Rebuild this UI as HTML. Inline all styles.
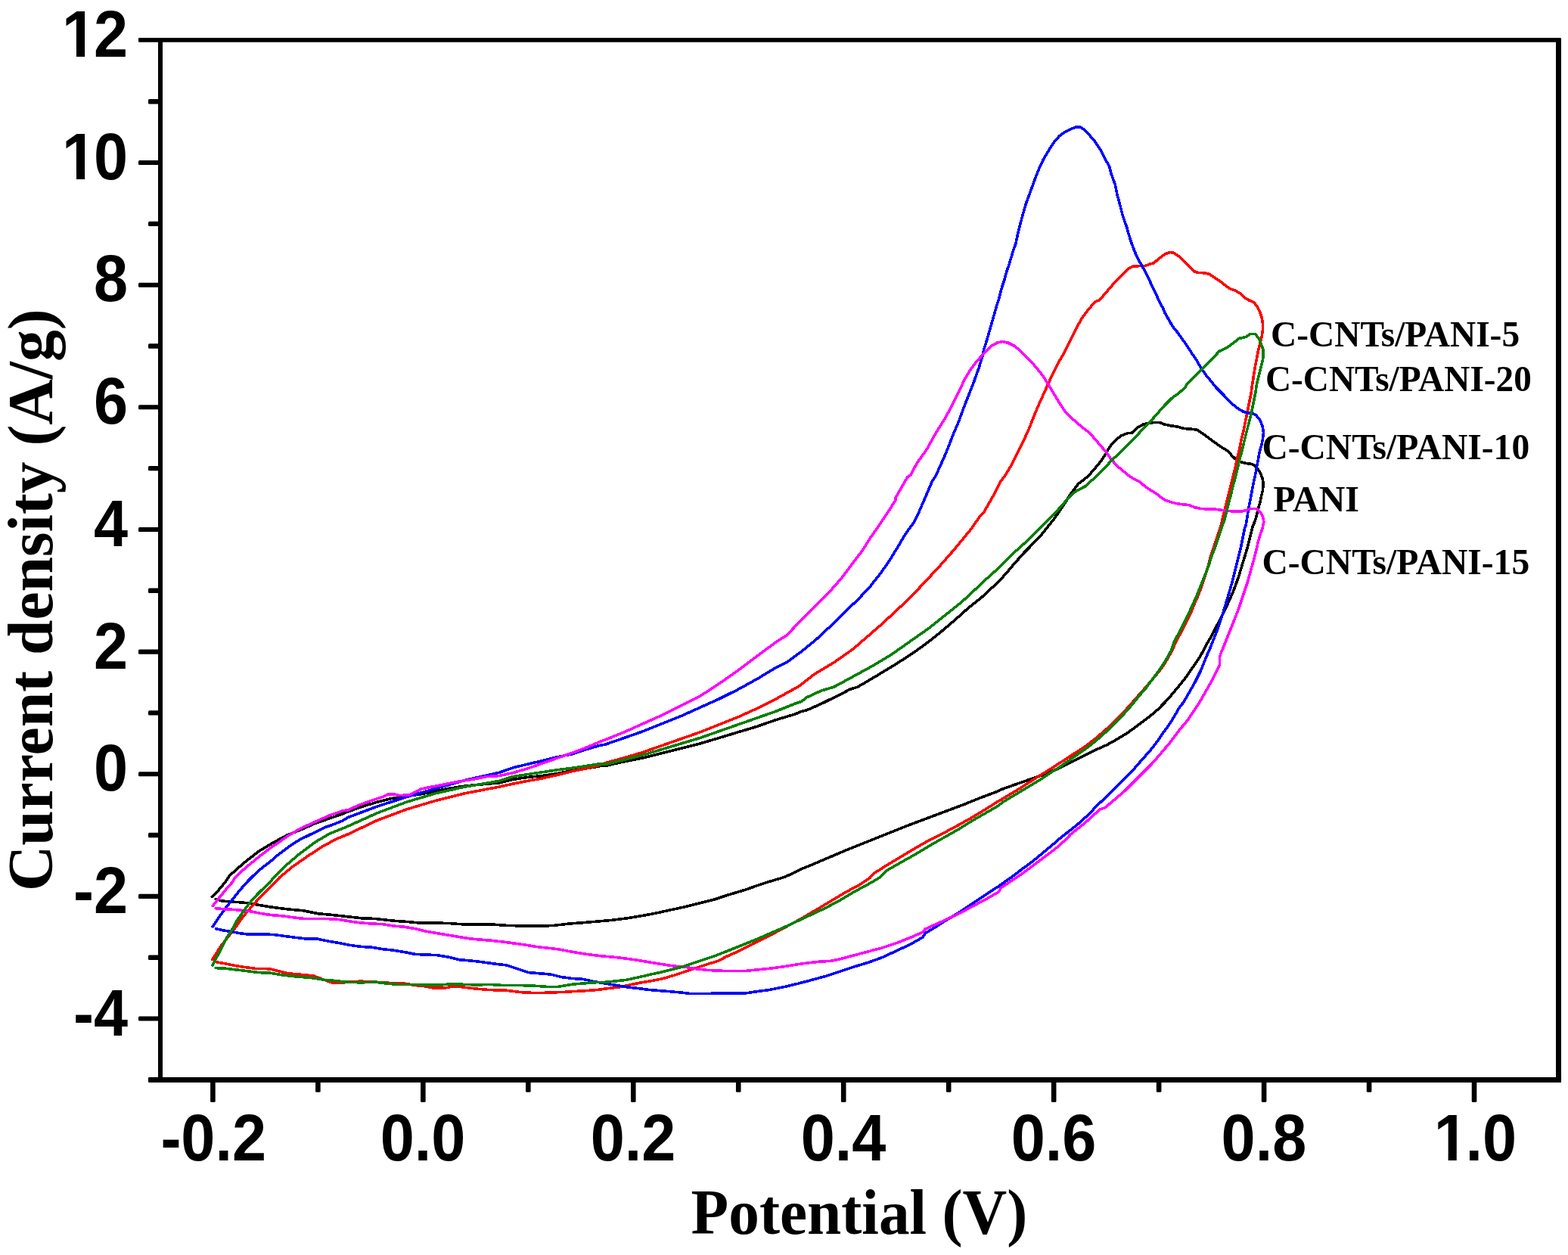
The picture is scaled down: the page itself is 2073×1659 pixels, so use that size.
<!DOCTYPE html>
<html lang="en">
<head>
<meta charset="utf-8">
<title>CV curves of PANI and C-CNTs/PANI composites</title>
<style>
html,body{margin:0;padding:0;background:#fff;}
body{width:2073px;height:1659px;overflow:hidden;}
svg{display:block;}
.tk{font-family:"Liberation Sans",Arial,sans-serif;font-weight:bold;font-size:86.4px;fill:#000;}
.ttl{font-family:"Liberation Serif","Times New Roman",serif;font-weight:bold;font-size:84px;fill:#000;}
.lg{font-family:"Liberation Serif","Times New Roman",serif;font-weight:bold;font-size:48px;fill:#000;}
.ax{fill:#000;stroke:none;}
.cv{fill:none;stroke-width:3.60;stroke-linejoin:round;stroke-linecap:round;shape-rendering:crispEdges;}
</style>
</head>
<body>
<svg xmlns="http://www.w3.org/2000/svg" width="2073" height="1659" viewBox="0 0 2073 1659">
<rect x="0" y="0" width="2073" height="1659" fill="#fff"/>
<g class="cv">
<path d="M280.3,1185.3 L288.9,1176.7 L298.6,1165.1 L302.9,1158.2 L314.5,1147.6 L327.0,1137.0 L343.4,1124.5 L357.9,1115.8 L379.1,1104.2 L396.5,1097.4 L415.8,1088.8 L435.1,1082.0 L454.4,1075.3 L460.0,1072.9 L479.3,1066.1 L498.6,1060.3 L517.9,1055.5 L537.2,1052.6 L556.5,1049.7 L575.8,1045.9 L595.1,1042.0 L614.4,1039.1 L633.7,1037.2 L660.0,1034.8 L677.9,1030.4 L697.2,1027.5 L716.5,1025.6 L735.8,1022.7 L755.1,1018.9 L774.4,1016.0 L793.7,1012.6 L800.0,1012.5 L825.1,1006.8 L850.2,1001.8 L875.3,995.5 L900.3,989.3 L925.4,983.0 L950.5,975.5 L975.6,967.9 L1000.7,960.4 L1025.8,951.6 L1050.8,944.1 L1060.0,940.3 L1066.6,938.8 L1085.9,930.3 L1105.2,920.7 L1124.5,911.0 L1134.1,908.0 L1159.2,893.2 L1184.2,878.1 L1209.3,861.8 L1228.1,848.0 L1246.9,832.9 L1265.8,816.6 L1278.3,805.4 L1290.8,795.3 L1300.0,787.8 L1309.6,778.7 L1319.3,770.0 L1328.9,759.4 L1338.6,747.9 L1346.3,739.2 L1354.0,730.5 L1361.7,722.8 L1369.5,714.1 L1377.2,706.4 L1384.9,696.7 L1392.6,687.1 L1400.3,676.5 L1408.1,664.9 L1413.8,655.2 L1419.6,647.5 L1425.4,639.8 L1433.1,634.0 L1440.0,628.0 L1447.5,619.2 L1453.8,611.7 L1460.1,602.9 L1465.1,594.1 L1470.1,586.6 L1476.4,580.3 L1482.6,575.9 L1490.2,572.8 L1496.4,572.2 L1504.0,565.3 L1511.5,560.9 L1520.3,559.0 L1527.8,558.4 L1534.1,558.8 L1539.1,560.9 L1547.9,562.8 L1556.6,564.0 L1565.4,566.5 L1575.5,567.2 L1583.0,568.4 L1590.5,573.4 L1598.0,579.1 L1606.8,585.4 L1615.6,591.6 L1623.1,596.0 L1628.1,601.7 L1633.2,606.7 L1639.4,610.4 L1646.9,612.3 L1655.7,613.6 L1660.7,617.3 L1665.8,624.2 L1668.9,631.8 L1670.2,639.3 L1669.5,648.1 L1667.6,655.6 L1665.8,664.4 L1663.3,673.2 L1661.4,680.7 L1659.5,688.0 L1657.0,693.8 L1655.7,697.6 L1652.6,710.2 L1649.5,722.7 L1645.7,735.3 L1641.9,747.8 L1638.2,760.3 L1633.8,772.9 L1629.4,784.2 L1624.4,795.5 L1619.4,806.7 L1614.3,816.8 L1608.1,828.1 L1601.8,840.6 L1594.3,853.2 L1586.7,868.0 L1577.9,880.7 L1570.1,892.3 L1560.0,905.2 L1550.8,916.4 L1540.8,927.7 L1530.8,937.8 L1520.7,946.5 L1510.7,954.1 L1500.7,961.6 L1488.1,970.4 L1475.6,977.9 L1463.1,984.8 L1450.5,990.4 L1438.0,996.7 L1425.4,1003.0 L1412.9,1009.3 L1400.3,1015.5 L1387.8,1020.5 L1375.3,1025.6 L1362.7,1029.9 L1350.2,1034.3 L1337.6,1038.7 L1325.1,1043.1 L1320.0,1045.7 L1298.3,1053.8 L1273.2,1063.9 L1248.1,1073.3 L1223.1,1082.7 L1198.0,1092.1 L1172.9,1102.1 L1147.8,1112.2 L1122.7,1122.2 L1097.6,1132.8 L1072.5,1143.5 L1060.0,1148.5 L1041.1,1157.7 L1035.3,1160.0 L1010.2,1167.5 L985.1,1176.3 L960.0,1183.8 L944.6,1189.0 L925.3,1193.9 L906.0,1198.7 L886.7,1202.8 L867.4,1207.1 L848.1,1210.7 L828.8,1213.9 L809.5,1216.3 L790.2,1218.0 L771.0,1219.7 L751.7,1221.1 L732.7,1223.4 L718.3,1224.1 L694.2,1224.1 L670.0,1223.4 L645.9,1221.7 L626.6,1221.7 L609.7,1221.7 L592.9,1220.5 L573.6,1220.0 L554.3,1220.0 L539.8,1218.6 L525.3,1217.6 L510.8,1216.2 L496.4,1214.5 L477.1,1213.7 L462.6,1212.1 L448.1,1210.4 L433.7,1208.9 L421.6,1207.9 L412.0,1206.0 L399.9,1203.6 L385.4,1202.4 L371.0,1200.7 L356.5,1198.8 L342.0,1196.4 L329.9,1194.0 L317.9,1192.8 L305.8,1192.0 L293.8,1191.1 L285.3,1188.7" stroke="#000000"/>
<path d="M280.7,1268.3 L285.1,1261.6 L291.8,1251.0 L298.6,1242.3 L305.3,1233.6 L312.1,1224.9 L317.9,1216.2 L325.6,1206.6 L333.3,1197.9 L342.0,1188.2 L351.7,1178.6 L362.3,1168.0 L369.5,1160.0 L386.8,1145.7 L406.1,1132.2 L425.4,1119.6 L444.7,1109.0 L460.0,1102.8 L498.6,1084.5 L537.2,1070.0 L575.8,1058.4 L614.4,1048.8 L660.0,1040.1 L677.9,1036.2 L697.2,1032.4 L716.5,1029.0 L735.8,1024.6 L755.1,1019.8 L774.4,1016.0 L793.7,1011.1 L800.0,1008.7 L825.1,1001.8 L850.2,994.3 L875.3,985.5 L900.3,976.7 L925.4,967.9 L950.5,957.9 L975.6,947.9 L1000.7,936.6 L1025.8,924.0 L1050.8,910.2 L1055.1,908.0 L1077.6,890.6 L1102.7,875.6 L1127.8,858.0 L1146.6,841.7 L1165.4,825.4 L1184.2,807.9 L1203.1,790.3 L1221.9,770.2 L1240.7,750.2 L1259.5,728.8 L1272.0,713.8 L1283.3,700.0 L1295.1,683.1 L1300.0,678.4 L1307.7,664.9 L1315.4,651.4 L1323.2,635.9 L1329.2,628.0 L1338.0,613.2 L1345.5,598.1 L1353.0,583.1 L1360.5,566.7 L1366.8,550.4 L1373.1,535.4 L1379.4,521.6 L1385.6,507.8 L1391.9,494.0 L1399.4,478.9 L1406.9,466.4 L1413.2,453.9 L1419.5,441.3 L1425.8,428.8 L1430.8,420.0 L1440.0,407.9 L1447.5,399.1 L1453.8,396.6 L1461.3,387.8 L1468.8,379.0 L1476.4,370.2 L1483.9,362.7 L1491.4,355.2 L1497.7,352.1 L1505.2,351.7 L1514.0,351.4 L1519.0,349.5 L1525.3,347.7 L1532.8,341.4 L1540.3,335.7 L1546.6,333.6 L1551.6,334.1 L1557.9,338.3 L1564.2,343.9 L1571.7,351.4 L1579.2,358.9 L1584.2,360.5 L1593.0,360.8 L1599.3,362.5 L1606.8,367.7 L1614.3,372.7 L1620.6,377.8 L1625.6,381.5 L1633.2,384.0 L1639.4,387.8 L1644.4,392.8 L1650.7,396.6 L1658.2,400.3 L1662.0,405.4 L1665.8,412.9 L1668.3,420.4 L1669.5,427.9 L1669.5,435.5 L1668.3,444.2 L1665.8,454.3 L1663.3,464.3 L1661.4,474.3 L1659.5,484.4 L1657.6,495.7 L1655.7,508.0 L1655.0,512.5 L1654.5,517.6 L1652.0,530.2 L1649.5,542.7 L1646.9,555.3 L1644.4,567.8 L1641.3,580.3 L1638.8,592.9 L1635.7,605.4 L1633.2,618.0 L1630.0,630.5 L1626.9,643.1 L1623.7,655.6 L1620.6,668.1 L1618.1,678.2 L1615.6,688.0 L1615.0,692.6 L1609.9,707.7 L1604.9,722.7 L1600.5,735.3 L1597.4,747.8 L1593.6,760.3 L1589.3,772.9 L1584.9,785.4 L1579.8,796.7 L1574.2,810.5 L1567.9,823.1 L1561.7,835.6 L1555.4,846.9 L1549.6,860.0 L1543.3,871.3 L1537.1,881.3 L1530.2,890.1 L1522.0,900.1 L1513.2,910.2 L1504.4,920.2 L1494.4,931.5 L1484.4,942.8 L1473.1,954.1 L1461.8,964.7 L1449.3,975.4 L1436.7,985.4 L1424.2,993.6 L1411.6,1001.7 L1399.1,1009.9 L1386.5,1018.0 L1374.0,1025.6 L1361.5,1033.7 L1348.9,1041.9 L1336.4,1049.4 L1323.8,1056.9 L1320.0,1058.8 L1304.6,1068.9 L1285.8,1080.2 L1266.9,1090.8 L1248.1,1100.9 L1229.3,1110.3 L1210.5,1120.9 L1191.7,1132.2 L1172.9,1143.5 L1154.1,1155.4 L1150.6,1160.0 L1135.6,1170.0 L1116.8,1180.1 L1098.0,1191.4 L1079.2,1202.6 L1060.3,1213.9 L1041.5,1224.0 L1022.7,1234.0 L1003.9,1243.4 L985.1,1252.8 L972.5,1259.1 L960.0,1264.7 L949.4,1270.3 L935.0,1274.7 L920.5,1279.5 L906.0,1284.3 L891.5,1289.1 L877.1,1293.5 L862.6,1296.4 L848.1,1298.8 L833.7,1301.7 L819.2,1304.8 L804.7,1306.5 L790.2,1308.4 L775.8,1309.6 L761.3,1310.4 L746.8,1311.3 L727.9,1312.1 L708.6,1312.6 L689.3,1311.7 L670.0,1309.3 L645.9,1308.5 L626.6,1306.8 L612.1,1304.9 L600.1,1303.7 L588.0,1306.1 L573.6,1306.1 L561.5,1303.7 L549.4,1302.5 L535.0,1300.1 L520.5,1299.6 L506.0,1298.9 L491.5,1297.7 L477.1,1297.2 L462.6,1297.7 L450.5,1299.6 L438.5,1298.9 L428.8,1295.3 L414.4,1290.0 L395.1,1288.0 L380.6,1286.8 L368.5,1283.7 L356.5,1280.8 L337.2,1280.3 L322.7,1278.4 L308.2,1276.0 L296.2,1273.6 L285.3,1271.6" stroke="#ff0000"/>
<path d="M281.2,1224.8 L288.9,1213.3 L298.6,1200.0 L308.2,1187.9 L317.9,1175.9 L327.5,1165.0 L337.2,1155.4 L346.8,1146.9 L356.5,1139.7 L366.1,1131.2 L375.8,1124.0 L385.4,1116.8 L395.1,1110.7 L404.7,1105.9 L416.8,1099.9 L428.8,1093.9 L440.9,1089.8 L453.0,1084.9 L460.0,1080.6 L498.6,1066.1 L537.2,1053.6 L575.8,1042.5 L614.4,1031.4 L660.0,1021.3 L677.9,1015.0 L697.2,1010.2 L716.5,1005.8 L735.8,1001.0 L755.1,997.1 L774.4,990.9 L793.7,985.1 L800.0,984.2 L825.1,975.5 L850.2,966.7 L875.3,956.6 L900.3,946.6 L925.4,935.3 L950.5,924.0 L975.6,911.5 L1000.7,897.7 L1025.8,882.6 L1040.0,875.6 L1058.8,861.8 L1077.6,846.7 L1096.4,829.2 L1115.3,810.4 L1134.1,792.8 L1150.4,775.3 L1165.4,756.4 L1178.0,737.6 L1188.0,721.3 L1196.8,706.3 L1201.2,700.0 L1208.0,691.2 L1214.0,679.1 L1220.1,664.9 L1226.2,650.7 L1232.3,636.5 L1237.6,628.0 L1247.7,605.6 L1253.9,590.6 L1260.2,574.3 L1267.7,556.7 L1274.0,539.2 L1281.5,520.3 L1287.8,504.0 L1294.1,486.5 L1299.1,470.2 L1300.5,462.8 L1305.3,447.4 L1309.2,433.8 L1313.1,420.3 L1316.9,406.8 L1320.8,394.3 L1323.7,382.7 L1327.5,371.1 L1330.4,360.5 L1334.3,348.9 L1337.2,339.3 L1340.1,329.6 L1342.6,323.1 L1346.4,305.5 L1351.4,286.7 L1356.4,269.2 L1361.5,255.4 L1366.5,241.6 L1372.7,225.3 L1379.0,211.5 L1386.5,198.9 L1392.8,188.9 L1400.3,180.1 L1407.9,174.5 L1415.4,170.7 L1422.9,167.8 L1427.9,167.8 L1434.2,171.9 L1440.5,178.8 L1448.0,187.6 L1455.5,198.9 L1461.8,211.5 L1466.8,220.2 L1469.3,230.3 L1474.3,244.1 L1476.8,256.6 L1480.6,270.4 L1484.4,285.5 L1489.5,300.0 L1492.7,311.3 L1496.4,322.6 L1500.2,332.6 L1504.0,341.4 L1509.0,350.2 L1514.0,358.9 L1519.0,369.0 L1524.0,380.3 L1529.1,390.3 L1532.8,399.1 L1537.2,406.6 L1540.3,414.1 L1545.4,422.9 L1550.4,431.7 L1556.6,439.2 L1562.9,448.0 L1569.2,456.8 L1575.5,466.8 L1581.7,475.6 L1588.0,486.9 L1594.3,495.7 L1600.5,503.2 L1604.3,508.0 L1608.1,512.6 L1615.6,520.1 L1623.1,527.7 L1630.6,535.2 L1636.9,540.2 L1643.2,544.0 L1649.5,545.8 L1655.7,546.5 L1660.7,549.0 L1665.8,555.3 L1668.9,562.8 L1670.5,571.6 L1669.5,580.3 L1667.6,589.1 L1665.1,597.9 L1663.3,607.9 L1661.4,618.0 L1659.5,628.0 L1657.0,639.3 L1655.1,649.3 L1653.2,659.4 L1651.3,669.4 L1649.5,679.4 L1648.2,688.0 L1647.3,693.8 L1645.7,697.6 L1643.2,710.2 L1640.7,722.7 L1637.5,735.3 L1634.4,747.8 L1631.3,760.3 L1628.1,772.9 L1624.4,785.4 L1620.6,798.0 L1616.8,810.5 L1613.1,821.8 L1609.3,833.1 L1604.3,845.6 L1599.3,858.2 L1594.9,868.0 L1587.5,886.5 L1579.8,901.9 L1572.1,915.4 L1564.4,928.9 L1560.0,934.0 L1553.4,945.3 L1545.8,957.8 L1538.3,967.9 L1530.8,979.2 L1522.0,990.4 L1513.2,1000.5 L1504.4,1010.5 L1495.7,1020.5 L1486.9,1029.3 L1478.1,1038.1 L1469.3,1046.9 L1460.5,1055.7 L1451.8,1063.2 L1446.7,1068.0 L1444.7,1071.7 L1435.1,1080.4 L1425.4,1089.1 L1415.8,1096.8 L1406.1,1104.5 L1399.4,1109.9 L1395.6,1113.4 L1381.1,1125.4 L1366.6,1137.5 L1352.1,1148.3 L1337.7,1159.2 L1320.0,1171.7 L1304.6,1181.8 L1285.8,1194.3 L1266.9,1206.8 L1248.1,1218.1 L1235.6,1226.3 L1223.1,1233.8 L1220.0,1239.0 L1204.6,1247.8 L1185.8,1256.6 L1166.9,1265.4 L1148.1,1272.3 L1129.3,1277.9 L1110.5,1284.2 L1091.7,1290.4 L1072.9,1295.5 L1054.1,1300.5 L1035.3,1304.9 L1016.4,1308.6 L997.6,1311.1 L985.1,1313.0 L972.5,1313.0 L960.0,1313.0 L954.3,1312.8 L939.8,1313.3 L925.3,1313.3 L910.8,1313.3 L901.2,1312.1 L886.7,1310.8 L872.3,1309.6 L857.8,1308.4 L843.3,1306.5 L828.8,1304.8 L814.4,1302.4 L799.9,1300.0 L785.4,1297.6 L771.0,1294.4 L756.5,1293.5 L742.0,1291.5 L727.9,1288.0 L713.4,1286.8 L699.0,1285.6 L684.5,1280.8 L670.0,1276.0 L650.7,1273.6 L636.3,1271.6 L621.8,1269.9 L607.3,1268.7 L592.9,1265.1 L578.4,1262.7 L563.9,1262.0 L549.4,1261.5 L535.0,1258.6 L520.5,1256.2 L506.0,1254.7 L491.5,1252.3 L477.1,1251.4 L462.6,1249.4 L448.1,1246.5 L433.7,1244.1 L419.2,1241.0 L404.7,1241.0 L390.2,1239.3 L375.8,1237.4 L361.3,1235.4 L342.0,1235.0 L327.5,1235.0 L317.9,1233.8 L308.2,1232.1 L296.2,1230.1 L285.3,1227.7" stroke="#0000ff"/>
<path d="M281.2,1197.6 L288.9,1187.9 L298.6,1175.9 L308.2,1165.0 L310.6,1160.0 L324.1,1147.6 L340.5,1134.1 L357.9,1120.6 L382.0,1104.2 L396.5,1095.5 L415.8,1086.8 L435.1,1078.1 L454.4,1071.4 L460.0,1071.0 L474.5,1064.2 L493.8,1057.4 L508.2,1052.6 L513.1,1049.7 L522.7,1050.2 L527.5,1051.7 L542.0,1050.7 L551.7,1045.9 L556.5,1043.0 L566.1,1041.0 L585.4,1037.2 L604.7,1033.3 L624.0,1030.4 L643.3,1026.6 L660.0,1025.6 L677.9,1021.7 L697.2,1016.0 L716.5,1009.2 L735.8,1002.5 L755.1,995.7 L774.4,988.5 L793.7,980.3 L800.0,978.0 L825.1,967.9 L850.2,956.6 L875.3,945.4 L900.3,932.8 L925.4,920.3 L950.5,904.0 L975.6,886.4 L1000.7,867.6 L1025.8,848.8 L1040.0,839.8 L1058.8,820.4 L1077.6,801.6 L1096.4,782.8 L1112.7,764.0 L1127.8,743.9 L1140.3,727.6 L1150.4,711.3 L1158.5,700.0 L1165.8,688.9 L1171.6,680.3 L1177.4,671.6 L1184.1,661.0 L1183.6,658.8 L1191.8,644.6 L1199.9,630.4 L1203.8,628.0 L1212.5,611.9 L1225.1,594.3 L1237.6,571.8 L1250.2,551.7 L1260.2,532.9 L1267.7,517.8 L1275.3,501.5 L1282.8,489.0 L1290.3,478.9 L1300.3,467.7 L1310.4,457.6 L1317.9,453.2 L1325.4,451.6 L1332.9,453.2 L1341.7,457.6 L1350.5,465.2 L1360.5,475.2 L1370.6,486.5 L1379.4,497.8 L1385.6,507.8 L1393.2,520.3 L1400.7,532.9 L1408.2,544.2 L1417.0,552.9 L1425.8,560.5 L1433.3,566.7 L1440.0,571.6 L1447.5,580.3 L1455.1,589.1 L1462.6,597.9 L1468.8,606.7 L1476.4,615.5 L1483.9,621.7 L1491.4,628.0 L1498.9,633.0 L1506.5,636.8 L1514.0,643.1 L1521.5,648.1 L1527.8,651.8 L1534.1,656.8 L1540.3,661.2 L1547.9,663.7 L1555.4,665.6 L1564.2,666.9 L1571.7,667.5 L1579.2,670.6 L1588.0,672.5 L1596.8,672.9 L1606.8,673.2 L1615.6,674.4 L1623.1,675.4 L1631.9,676.1 L1640.7,676.1 L1646.9,674.8 L1653.2,672.5 L1660.7,672.3 L1665.8,676.3 L1669.5,682.6 L1670.8,690.1 L1668.9,698.9 L1665.8,707.7 L1663.3,716.4 L1661.4,725.2 L1658.9,735.3 L1655.7,746.5 L1652.6,757.8 L1649.5,769.1 L1645.7,780.4 L1641.9,791.7 L1638.2,803.0 L1633.8,814.3 L1629.4,825.6 L1624.4,838.1 L1619.4,850.6 L1614.3,863.2 L1612.5,868.0 L1612.6,878.8 L1606.8,890.3 L1600.0,903.8 L1593.3,915.4 L1585.6,928.9 L1577.9,940.5 L1570.1,952.1 L1560.0,964.1 L1553.4,972.9 L1545.8,982.9 L1538.3,991.7 L1530.8,1000.5 L1522.0,1010.5 L1513.2,1019.3 L1504.4,1028.1 L1495.7,1036.8 L1486.9,1045.6 L1478.1,1053.2 L1469.3,1060.7 L1460.5,1068.0 L1454.4,1069.8 L1444.7,1078.5 L1435.1,1087.2 L1425.4,1094.9 L1415.8,1102.6 L1409.0,1109.9 L1395.6,1121.8 L1381.1,1132.7 L1366.6,1143.5 L1352.1,1154.4 L1337.7,1164.0 L1323.2,1173.7 L1320.0,1179.3 L1304.6,1188.0 L1285.8,1198.1 L1266.9,1208.1 L1248.1,1216.9 L1235.6,1222.5 L1223.1,1228.2 L1220.0,1232.1 L1204.6,1239.0 L1185.8,1246.5 L1166.9,1252.8 L1148.1,1257.8 L1129.3,1262.8 L1110.5,1267.9 L1098.0,1270.4 L1085.4,1271.0 L1072.9,1272.3 L1054.1,1274.8 L1035.3,1277.9 L1016.4,1280.4 L997.6,1282.3 L985.1,1283.5 L972.5,1283.5 L960.0,1283.5 L949.4,1283.1 L935.0,1282.4 L920.5,1280.7 L906.0,1278.3 L891.5,1277.1 L872.3,1274.2 L853.0,1271.0 L833.7,1267.9 L814.4,1265.5 L795.1,1263.8 L775.8,1261.4 L756.5,1258.3 L737.6,1254.7 L723.1,1253.1 L708.6,1251.4 L694.2,1249.0 L679.7,1247.0 L665.2,1245.1 L650.7,1243.4 L636.3,1242.2 L621.8,1241.0 L607.3,1238.6 L592.9,1236.2 L578.4,1233.8 L563.9,1231.3 L549.4,1227.7 L535.0,1225.3 L520.5,1224.1 L506.0,1221.7 L491.5,1221.0 L477.1,1220.0 L460.2,1217.6 L445.7,1215.2 L431.2,1214.5 L416.8,1214.5 L402.3,1214.5 L387.8,1212.8 L373.4,1210.8 L358.9,1209.6 L346.8,1207.9 L334.8,1205.5 L322.7,1203.6 L308.2,1202.4 L296.2,1201.7 L285.3,1200.7" stroke="#ff00ff"/>
<path d="M281.2,1276.0 L287.0,1264.5 L293.8,1251.9 L300.5,1238.4 L306.3,1229.7 L313.1,1217.2 L319.8,1207.5 L327.5,1196.9 L335.3,1187.3 L344.9,1177.6 L356.5,1167.0 L361.7,1160.0 L377.2,1144.7 L396.5,1128.3 L415.8,1113.8 L435.1,1102.3 L454.4,1094.5 L460.0,1092.2 L498.6,1074.8 L537.2,1060.3 L575.8,1048.8 L614.4,1040.1 L660.0,1032.4 L677.9,1026.6 L697.2,1023.7 L716.5,1020.8 L735.8,1017.9 L755.1,1015.5 L774.4,1012.6 L793.7,1009.7 L800.0,1010.6 L825.1,1004.3 L850.2,998.0 L875.3,990.5 L900.3,983.0 L925.4,975.5 L950.5,966.7 L975.6,957.9 L1000.7,949.1 L1025.8,940.3 L1050.8,930.3 L1060.0,927.2 L1066.6,921.9 L1085.9,913.0 L1102.7,908.0 L1127.8,894.4 L1152.9,880.6 L1178.0,865.6 L1203.1,848.0 L1228.1,830.4 L1253.2,810.4 L1272.0,795.3 L1290.8,777.8 L1300.0,769.0 L1309.6,760.4 L1319.3,751.7 L1328.9,742.1 L1338.6,732.4 L1348.2,723.7 L1357.9,715.1 L1367.5,705.4 L1377.2,695.8 L1386.8,686.1 L1396.5,676.5 L1404.2,667.8 L1411.9,659.1 L1419.6,651.4 L1427.4,646.6 L1435.1,642.7 L1440.0,638.0 L1450.0,629.3 L1460.1,619.2 L1470.1,607.9 L1480.1,599.2 L1490.2,589.1 L1500.2,579.1 L1510.2,567.8 L1520.3,557.8 L1530.3,546.5 L1540.3,535.2 L1549.1,526.4 L1557.9,520.1 L1566.7,512.6 L1569.2,508.0 L1578.0,499.4 L1585.5,491.9 L1594.3,483.1 L1603.1,474.3 L1611.8,464.3 L1620.6,460.5 L1629.4,454.3 L1638.2,447.4 L1646.9,445.5 L1653.2,441.5 L1659.5,441.5 L1664.5,448.0 L1667.6,455.5 L1670.2,463.1 L1670.2,471.8 L1668.3,480.6 L1665.8,490.6 L1663.3,500.7 L1661.4,508.0 L1660.1,517.6 L1657.6,530.2 L1655.1,542.7 L1652.0,555.3 L1648.8,567.8 L1645.7,580.3 L1642.6,592.9 L1639.4,605.4 L1636.3,618.0 L1633.2,630.5 L1630.0,643.1 L1626.9,655.6 L1623.7,668.1 L1620.6,680.7 L1618.7,688.0 L1616.8,692.6 L1611.8,707.7 L1606.8,722.7 L1601.8,735.3 L1598.0,747.8 L1593.0,760.3 L1588.0,772.9 L1583.0,785.4 L1578.0,796.7 L1571.7,810.5 L1565.4,823.1 L1559.2,835.6 L1552.9,846.9 L1548.3,860.0 L1542.1,871.3 L1535.8,881.3 L1529.5,890.1 L1522.0,900.1 L1514.5,910.2 L1505.7,920.2 L1495.7,932.7 L1485.6,944.0 L1474.3,955.3 L1463.1,966.6 L1450.5,977.9 L1438.0,987.9 L1425.4,996.7 L1412.9,1005.5 L1400.3,1014.3 L1387.8,1022.4 L1375.3,1030.6 L1362.7,1038.1 L1350.2,1045.6 L1337.6,1053.2 L1325.1,1060.7 L1320.0,1065.1 L1304.6,1073.9 L1285.8,1084.6 L1266.9,1096.5 L1248.1,1107.1 L1229.3,1117.8 L1210.5,1129.1 L1191.7,1139.7 L1172.9,1150.4 L1163.2,1160.0 L1148.1,1168.8 L1129.3,1178.8 L1110.5,1190.1 L1091.7,1200.1 L1072.9,1208.9 L1054.1,1217.7 L1035.3,1226.5 L1016.4,1234.6 L997.6,1242.8 L978.8,1250.3 L960.0,1257.8 L944.6,1263.8 L930.1,1268.6 L915.7,1273.5 L901.2,1278.3 L886.7,1281.9 L872.3,1285.5 L857.8,1288.7 L843.3,1292.0 L828.8,1295.2 L814.4,1296.9 L799.9,1298.3 L785.4,1298.8 L771.0,1300.0 L756.5,1301.2 L742.0,1303.6 L737.6,1304.4 L723.1,1304.4 L703.8,1303.0 L684.5,1302.5 L665.2,1302.5 L645.9,1301.3 L631.4,1302.0 L612.1,1301.3 L597.7,1300.6 L583.2,1302.0 L563.9,1302.0 L544.6,1301.3 L525.3,1301.3 L510.8,1300.1 L496.4,1298.2 L477.1,1298.9 L457.8,1298.2 L443.3,1296.5 L428.8,1295.3 L414.4,1292.9 L399.9,1291.6 L385.4,1290.4 L371.0,1288.5 L356.5,1286.1 L342.0,1285.6 L327.5,1283.7 L313.1,1282.0 L298.6,1280.3 L285.3,1279.6" stroke="#008000"/>
</g>
<g class="ax">
<rect x="183.00" y="50.00" width="1880.60" height="5.80" rx="1.2"/>
<rect x="196.00" y="1424.10" width="1868.00" height="6.90" rx="1.2"/>
<rect x="209.00" y="50.00" width="6.00" height="1381.00"/>
<rect x="2057.00" y="50.30" width="7.00" height="1380.70" rx="1.2"/>
<rect x="183.00" y="1343.47" width="29.00" height="6.10" rx="1.5"/>
<rect x="196.00" y="1262.50" width="16.00" height="6.40" rx="1.5"/>
<rect x="183.00" y="1181.83" width="29.00" height="6.10" rx="1.5"/>
<rect x="196.00" y="1100.86" width="16.00" height="6.40" rx="1.5"/>
<rect x="183.00" y="1020.19" width="29.00" height="6.10" rx="1.5"/>
<rect x="196.00" y="939.22" width="16.00" height="6.40" rx="1.5"/>
<rect x="183.00" y="858.55" width="29.00" height="6.10" rx="1.5"/>
<rect x="196.00" y="777.58" width="16.00" height="6.40" rx="1.5"/>
<rect x="183.00" y="696.91" width="29.00" height="6.10" rx="1.5"/>
<rect x="196.00" y="615.94" width="16.00" height="6.40" rx="1.5"/>
<rect x="183.00" y="535.27" width="29.00" height="6.10" rx="1.5"/>
<rect x="196.00" y="454.30" width="16.00" height="6.40" rx="1.5"/>
<rect x="183.00" y="373.63" width="29.00" height="6.10" rx="1.5"/>
<rect x="196.00" y="292.66" width="16.00" height="6.40" rx="1.5"/>
<rect x="183.00" y="211.99" width="29.00" height="6.10" rx="1.5"/>
<rect x="196.00" y="131.02" width="16.00" height="6.40" rx="1.5"/>
<rect x="278.10" y="1427.00" width="6.60" height="30.00" rx="1.5"/>
<rect x="417.07" y="1427.00" width="6.60" height="16.80" rx="1.5"/>
<rect x="556.04" y="1427.00" width="6.60" height="30.00" rx="1.5"/>
<rect x="695.01" y="1427.00" width="6.60" height="16.80" rx="1.5"/>
<rect x="833.98" y="1427.00" width="6.60" height="30.00" rx="1.5"/>
<rect x="972.95" y="1427.00" width="6.60" height="16.80" rx="1.5"/>
<rect x="1111.92" y="1427.00" width="6.60" height="30.00" rx="1.5"/>
<rect x="1250.89" y="1427.00" width="6.60" height="16.80" rx="1.5"/>
<rect x="1389.86" y="1427.00" width="6.60" height="30.00" rx="1.5"/>
<rect x="1528.83" y="1427.00" width="6.60" height="16.80" rx="1.5"/>
<rect x="1667.80" y="1427.00" width="6.60" height="30.00" rx="1.5"/>
<rect x="1806.77" y="1427.00" width="6.60" height="16.80" rx="1.5"/>
<rect x="1945.74" y="1427.00" width="6.60" height="30.00" rx="1.5"/>
</g>
<g class="tk">
<text transform="translate(169.0,1368.9) scale(0.938,1)" text-anchor="end">-4</text>
<text transform="translate(169.0,1207.2) scale(0.938,1)" text-anchor="end">-2</text>
<text transform="translate(169.0,1045.4) scale(0.938,1)" text-anchor="end">0</text>
<text transform="translate(169.0,883.6) scale(0.938,1)" text-anchor="end">2</text>
<text transform="translate(169.0,721.9) scale(0.938,1)" text-anchor="end">4</text>
<text transform="translate(169.0,560.1) scale(0.938,1)" text-anchor="end">6</text>
<text transform="translate(169.0,398.3) scale(0.938,1)" text-anchor="end">8</text>
<text transform="translate(169.0,236.6) scale(0.938,1)" x="-96.10" dx="3.45,-3.45" clip-path="url(#c1)">10</text>
<text transform="translate(169.0,74.8) scale(0.938,1)" x="-96.10" dx="3.45,-3.45" clip-path="url(#c2)">12</text>
<text transform="translate(282.2,1533.8) scale(0.938,1)" text-anchor="middle">-0.2</text>
<text transform="translate(559.1,1533.8) scale(0.938,1)" text-anchor="middle">0.0</text>
<text transform="translate(837.1,1533.8) scale(0.938,1)" text-anchor="middle">0.2</text>
<text transform="translate(1115.0,1533.8) scale(0.938,1)" text-anchor="middle">0.4</text>
<text transform="translate(1393.0,1533.8) scale(0.938,1)" text-anchor="middle">0.6</text>
<text transform="translate(1670.9,1533.8) scale(0.938,1)" text-anchor="middle">0.8</text>
<text transform="translate(1948.8,1533.8) scale(0.938,1)" x="-60.05" dx="3.45,-3.45" clip-path="url(#c3)">1.0</text>
</g>
<defs><clipPath id="c1"><path d="M-116.10,-80 H20.00 V20 H-45.83 V-9.07 H-60.63 V20 H-72.49 V-9.07 H-88.43 V20 H-116.10 Z"/></clipPath><clipPath id="c2"><path d="M-116.10,-80 H20.00 V20 H-45.83 V-9.07 H-60.63 V20 H-72.49 V-9.07 H-88.43 V20 H-116.10 Z"/></clipPath><clipPath id="c3"><path d="M-80.05,-80 H80.05 V20 H-9.78 V-9.07 H-24.58 V20 H-36.44 V-9.07 H-52.39 V20 H-80.05 Z"/></clipPath></defs>
<text class="ttl" transform="translate(913.6,1630.8) scale(0.9680,1)">Potential (V)</text>
<text class="ttl" transform="translate(69.0,1178.1) rotate(-90) scale(0.9959,1)">Current density (A/g)</text>
<g class="lg">
<text transform="translate(1680.0,457.9) scale(0.9874,1)">C-CNTs/PANI-5</text>
<text transform="translate(1672.9,517.1) scale(0.9851,1)">C-CNTs/PANI-20</text>
<text transform="translate(1668.4,607.3) scale(0.9902,1)">C-CNTs/PANI-10</text>
<text transform="translate(1683.4,675.8) scale(0.9978,1)">PANI</text>
<text transform="translate(1668.4,759.1) scale(0.9902,1)">C-CNTs/PANI-15</text>
</g>
</svg>
</body>
</html>
